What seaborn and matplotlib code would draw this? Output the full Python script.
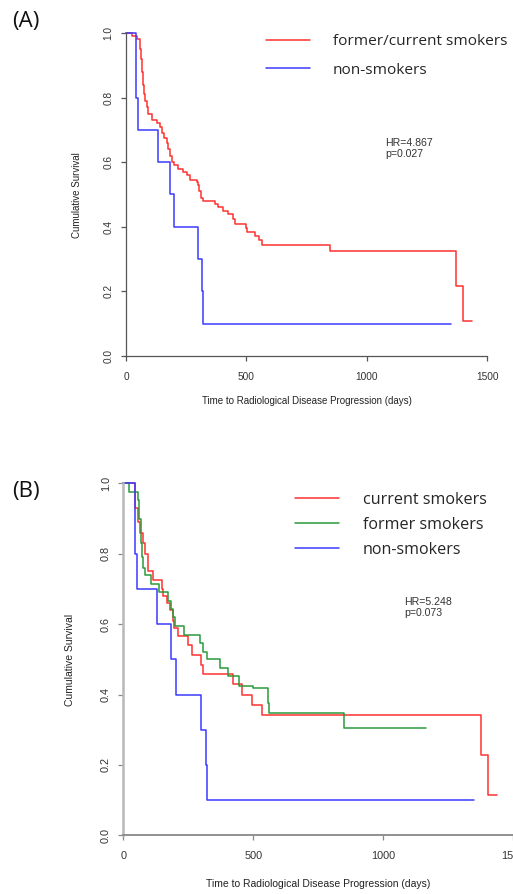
import matplotlib
matplotlib.use("Agg")
import matplotlib.pyplot as plt
import seaborn as sns
import pandas as pd

# ---------------- data ----------------
# Panel A
a_fc_time = [0, 23, 44, 58, 62, 66, 71, 75, 80, 86, 93, 107, 127, 141, 151, 159, 169, 176, 183,
             193, 199, 217, 238, 252, 266, 294, 301, 305, 310, 321, 370, 384, 404, 422, 446, 453,
             497, 501, 536, 554, 564, 848, 1371, 1399, 1436]
a_fc_surv = [1.0, 0.99, 0.98, 0.95, 0.92, 0.88, 0.84, 0.81, 0.79, 0.77, 0.75, 0.73, 0.72, 0.71, 0.69,
             0.675, 0.66, 0.64, 0.62, 0.60, 0.59, 0.58, 0.57, 0.56, 0.545, 0.54, 0.53, 0.51, 0.49,
             0.48, 0.47, 0.46, 0.45, 0.44, 0.425, 0.41, 0.395, 0.385, 0.37, 0.36, 0.345, 0.325,
             0.216, 0.108, 0.108]
a_ns_time = [0, 40, 51, 132, 183, 199, 298, 314, 321, 1349]
a_ns_surv = [1.0, 0.8, 0.7, 0.6, 0.5, 0.4, 0.3, 0.2, 0.1, 0.1]

# Panel B
b_cur_time = [0, 45, 55, 65, 75, 85, 96, 115, 148, 154, 167, 180, 190, 195, 212, 250, 263, 300,
              306, 423, 455, 496, 534, 1374, 1403, 1436]
b_cur_surv = [1.0, 0.93, 0.89, 0.86, 0.83, 0.80, 0.75, 0.725, 0.70, 0.68, 0.66, 0.64, 0.61, 0.59,
              0.565, 0.54, 0.512, 0.485, 0.457, 0.43, 0.40, 0.37, 0.343, 0.229, 0.114, 0.114]
b_for_time = [0, 23, 58, 62, 68, 72, 77, 85, 105, 138, 173, 182, 190, 197, 235, 295, 305, 322,
              372, 401, 446, 500, 555, 560, 850, 1164]
b_for_surv = [1.0, 0.976, 0.952, 0.90, 0.83, 0.79, 0.76, 0.74, 0.715, 0.69, 0.667, 0.643, 0.62,
              0.595, 0.57, 0.545, 0.52, 0.50, 0.475, 0.452, 0.425, 0.418, 0.375, 0.348, 0.305, 0.305]
b_ns_time = [0, 44, 53, 131, 182, 201, 299, 317, 323, 1350]
b_ns_surv = [1.0, 0.8, 0.7, 0.6, 0.5, 0.4, 0.3, 0.2, 0.1, 0.1]

x_ticks = [0, 500, 1000, 1500]
y_ticks = [0.0, 0.2, 0.4, 0.6, 0.8, 1.0]
y_ticklabels = ["0.0", "0.2", "0.4", "0.6", "0.8", "1.0"]
x_label = "Time to Radiological Disease Progression (days)"
y_label = "Cumulative Survival"

labels_A = ["former/current smokers", "non-smokers"]
labels_B = ["current smokers", "former smokers", "non-smokers"]
stats_A = "HR=4.867\np=0.027"
stats_B = "HR=5.248\np=0.073"

RED, BLUE, GREEN = "#ff3030", "#3a3aff", "#2a9a3a"

# ---------------- style ----------------
sns.set_style("ticks")
plt.rcParams["font.family"] = ["Liberation Sans", "DejaVu Sans"]

W, H = 513, 894
fig = plt.figure(figsize=(W / 100, H / 100), dpi=100)


def make_df(groups):
    rows = []
    for name, t, s in groups:
        for ti, si in zip(t, s):
            rows.append({"group": name, "time": ti, "surv": si})
    return pd.DataFrame(rows)


def style_axes(ax, spine_col, lw_left, lw_bot, left_col, tick_fs, ylab_x, xlab_y):
    ax.set_xlim(0, 1520)
    ax.set_ylim(0, 1.03)
    sns.despine(ax=ax)
    ax.spines["left"].set_bounds(0, 1)
    ax.spines["bottom"].set_bounds(0, 1500)
    ax.spines["left"].set_color(left_col)
    ax.spines["left"].set_linewidth(lw_left)
    ax.spines["bottom"].set_color(spine_col)
    ax.spines["bottom"].set_linewidth(lw_bot)
    ax.set_xticks(x_ticks)
    ax.set_xticklabels([str(v) for v in x_ticks], fontsize=tick_fs, color="#333333")
    ax.set_yticks(y_ticks)
    ax.set_yticklabels(y_ticklabels, fontsize=tick_fs, rotation=90, va="center", color="#333333")
    ax.tick_params(axis="x", length=3.5, width=0.9, color=spine_col, pad=8, direction="out")
    ax.tick_params(axis="y", length=3.5, width=0.9, color=spine_col, pad=5.5, direction="out")
    ax.set_xlabel(x_label, fontsize=tick_fs - 0.3, color="#222222")
    ax.set_ylabel(y_label, fontsize=tick_fs - 0.3, color="#222222")
    ax.xaxis.set_label_coords(750 / 1520, xlab_y)
    ax.yaxis.set_label_coords(ylab_x, 0.485)


# ---------- Panel A ----------
pxA = 0.2407
unitA = 323
axA = fig.add_axes([126 / W, (H - 356) / H, 1520 * pxA / W, 1.03 * unitA / H])
dfA = make_df([(labels_A[0], a_fc_time, a_fc_surv), (labels_A[1], a_ns_time, a_ns_surv)])
sns.lineplot(data=dfA, x="time", y="surv", hue="group", hue_order=labels_A,
             palette=[RED, BLUE], drawstyle="steps-post", estimator=None, lw=1.1,
             ax=axA, clip_on=False)
style_axes(axA, "#555555", 0.9, 0.9, "#555555", 7.3, -44 / (1520 * pxA), -40 / (1.03 * unitA))
sns.move_legend(axA, "upper left", bbox_to_anchor=(266 / W, 1 - 34 / H),
                bbox_transform=fig.transFigure, frameon=False, title=None,
                prop={"family": "Open Sans", "size": 11.1}, handlelength=2.85,
                handletextpad=1.5, labelspacing=0.9, borderpad=0, borderaxespad=0)
fig.text(385 / W, 1 - 138 / H, stats_A, fontsize=7.6, va="top", ha="left",
         color="#333333", linespacing=1.15)
fig.text(12 / W, 1 - 22 / H, "(A)", fontsize=16, va="center", ha="left",
         family="Open Sans", color="#111111")

# ---------- Panel B ----------
pxB = 0.26
unitB = 352
axB = fig.add_axes([123.3 / W, (H - 835.3) / H, 1520 * pxB / W, 1.03 * unitB / H])
dfB = make_df([(labels_B[0], b_cur_time, b_cur_surv), (labels_B[1], b_for_time, b_for_surv),
               (labels_B[2], b_ns_time, b_ns_surv)])
sns.lineplot(data=dfB, x="time", y="surv", hue="group", hue_order=labels_B,
             palette=[RED, GREEN, BLUE], drawstyle="steps-post", estimator=None, lw=1.1,
             ax=axB, clip_on=False)
style_axes(axB, "#888888", 1.8, 1.3, "#b8b8b8", 7.8, -48 / (1520 * pxB), -44 / (1.03 * unitB))
sns.move_legend(axB, "upper left", bbox_to_anchor=(295 / W, 1 - 492 / H),
                bbox_transform=fig.transFigure, frameon=False, title=None,
                prop={"family": "Open Sans", "size": 11.6}, handlelength=2.75,
                handletextpad=1.45, labelspacing=0.55, borderpad=0, borderaxespad=0)
fig.text(404 / W, 1 - 597 / H, stats_B, fontsize=7.6, va="top", ha="left",
         color="#333333", linespacing=1.15)
fig.text(12 / W, 1 - 492 / H, "(B)", fontsize=16, va="center", ha="left",
         family="Open Sans", color="#111111")

fig.savefig("out.png", dpi=100)
